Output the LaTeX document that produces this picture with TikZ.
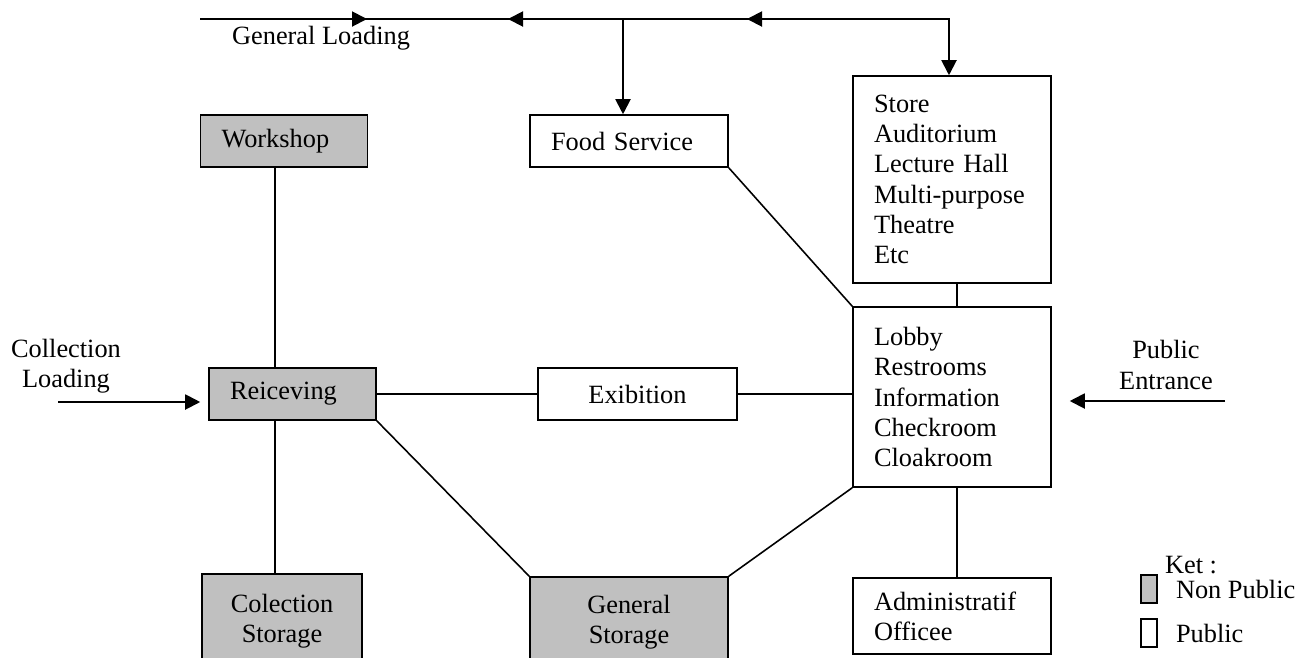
\documentclass[tikz,border=0pt]{standalone}
\usepackage{fontspec}
\setmainfont{Liberation Serif}
\usepackage{xcolor}
\usetikzlibrary{arrows.meta,positioning,calc}
\definecolor{nonpub}{HTML}{C0C0C0}

\begin{document}
\begin{tikzpicture}[
x=0.02cm, y=-0.02cm,
font=\fontsize{15}{17.2}\selectfont,
box/.style={draw, line width=0.9pt, minimum height=1.04cm, inner sep=0pt, align=center},
pub/.style={box, fill=white},
npub/.style={box, fill=nonpub},
lft/.style={align=left, inner xsep=0.42cm, text width=#1},
lbl/.style={align=center, inner sep=1pt},
lnk/.style={line width=0.9pt},
arr/.style={-{Triangle[length=0.3cm,width=0.3cm]}, line width=1.1pt}
]
\clip (0,0) rectangle (1306,657);

% rooms
\node[npub, lft=2.5cm] (work) at (284,141) {Workshop};
\node[pub, lft=3.12cm] (food) at (629,141) {Food Service};
\node[pub, lft=3.12cm, minimum height=4.14cm] (store) at (952,179.5) {Store\\Auditorium\\Lecture Hall\\Multi-purpose\\Theatre\\Etc};
\node[npub, lft=2.5cm] (rec) at (292.5,394) {Reiceving};
\node[pub, minimum width=3.98cm] (exib) at (637.5,394) {Exibition};
\node[pub, lft=3.12cm, minimum height=3.6cm] (lobby) at (952,397) {Lobby\\Restrooms\\Information\\Checkroom\\Cloakroom};
\node[npub, minimum width=3.2cm, minimum height=1.88cm] (colst) at (282,621) {Colection\\Storage};
\node[npub, minimum width=3.96cm, minimum height=1.82cm] (genst) at (629,622.5) {General\\Storage};
\node[pub, lft=3.12cm, minimum height=1.52cm] (admin) at (952,616) {Administratif\\Officee};

% entries
\node[lbl] (cload) at (66,366) {Collection\\Loading};
\node[lbl] (pent) at (1166,365) {Public\\Entrance};
\node[lbl] (gload) at (321,38) {General Loading};

% legend
\node[lbl] (ket) at (1191,565) {Ket :};
\node[npub, minimum width=0.32cm, minimum height=0.56cm] (keynp) at (1149,589) {};
\node[right=0.24cm of keynp] (lnp) {Non Public};
\node[pub, minimum width=0.32cm, minimum height=0.56cm] (keyp) at (1149,633) {};
\node[right=0.24cm of keyp] (lp) {Public};

% links
\coordinate (lspine) at (275,0);
\coordinate (rspine) at (957,0);
\draw[lnk] (work.south -| lspine) -- (rec.north -| lspine);
\draw[lnk] (rec.south -| lspine) -- (colst.north -| lspine);
\draw[lnk] (rec.east) -- (exib.west);
\draw[lnk] (exib.east) -- (lobby.west |- exib.east);
\draw[lnk] (food.south east) -- (lobby.north west);
\draw[lnk] (rec.south east) -- (genst.north west);
\draw[lnk] (genst.north east) -- (lobby.south west);
\draw[lnk] (store.south -| rspine) -- (lobby.north -| rspine);
\draw[lnk] (lobby.south -| rspine) -- (admin.north -| rspine);

% general loading
\coordinate (glstart) at (200,19);
\coordinate (sdrop) at (949,19);
\coordinate (fdrop) at (623,19);
\draw[arr] (glstart) -| (store.north -| sdrop);
\draw[arr] (fdrop) -- (food.north -| fdrop);
\coordinate (t1) at (300,19);
\coordinate (t2) at (367,19);
\coordinate (t3) at (553,19);
\coordinate (t4) at (508,19);
\coordinate (t5) at (797,19);
\coordinate (t6) at (747,19);
\draw[arr] (t1) -- (t2);
\draw[arr] (t3) -- (t4);
\draw[arr] (t5) -- (t6);

% entrances
\coordinate (cstart) at (58,402);
\coordinate (pstart) at (1225,401);
\draw[arr, shorten >=0.16cm] (cstart) -- (rec.west |- cstart);
\draw[arr, shorten >=0.36cm] (pstart) -- (lobby.east |- pstart);
\end{tikzpicture}
\end{document}
